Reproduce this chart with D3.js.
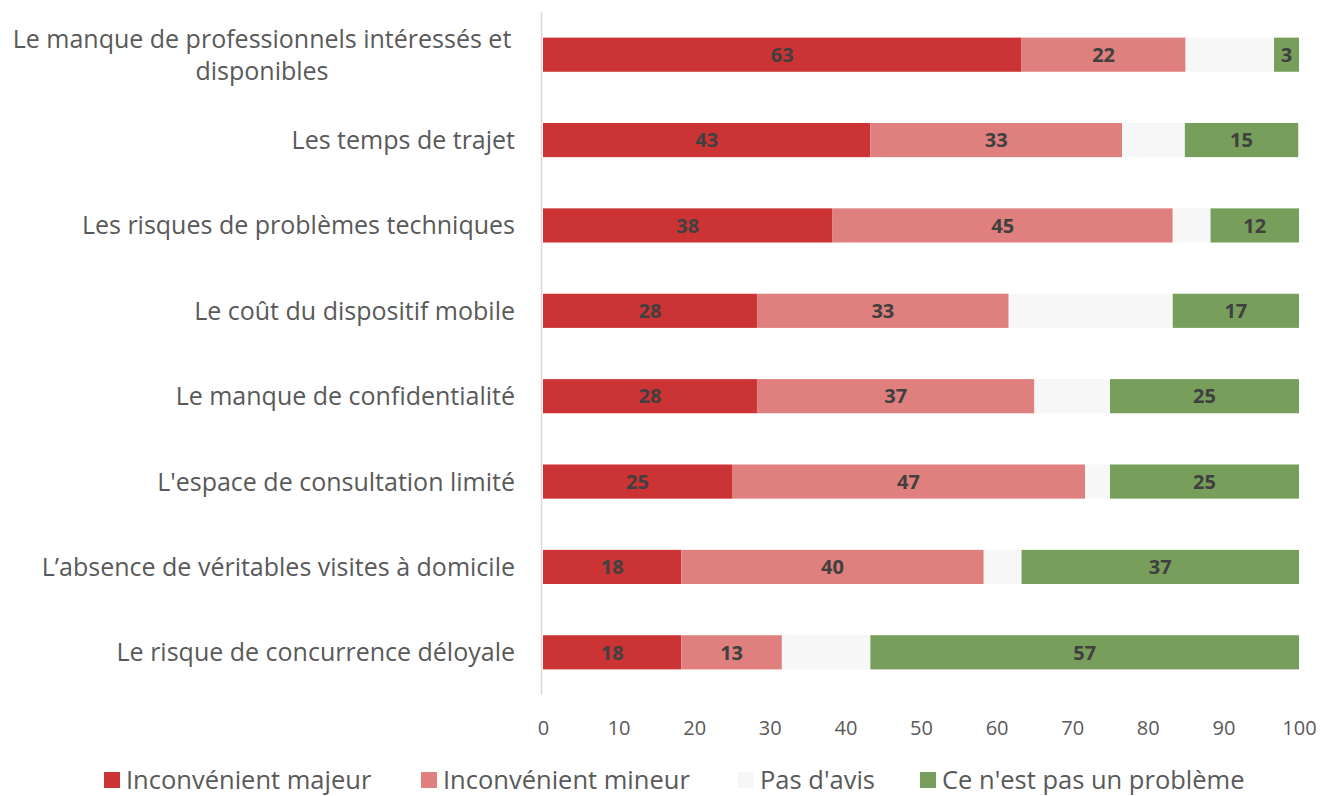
<!DOCTYPE html>
<html>
<head>
<meta charset="utf-8">
<script src="https://cdn.jsdelivr.net/npm/d3@7"></script>
<style>
body { margin: 0; background: #fff; }
svg { font-family: "Open Sans", "Noto Sans", sans-serif; }
</style>
</head>
<body>
<svg width="1336" height="796"></svg>
<script>
var categories = [
  "Le manque de professionnels intéressés et|disponibles",
  "Les temps de trajet",
  "Les risques de problèmes techniques",
  "Le coût du dispositif mobile",
  "Le manque de confidentialité",
  "L'espace de consultation limité",
  "L’absence de véritables visites à domicile",
  "Le risque de concurrence déloyale"
];
var majeur  = [63.3, 43.3, 38.3, 28.3, 28.3, 25.0, 18.3, 18.3];
var mineur  = [21.7, 33.3, 45.0, 33.3, 36.7, 46.7, 40.0, 13.3];
var sansAvis = [11.7, 8.3, 5.0, 21.7, 10.0, 3.3, 5.0, 11.7];
var pasProbleme = [3.3, 15.0, 11.7, 16.7, 25.0, 25.0, 36.7, 56.7];
var seriesNames = ["Inconvénient majeur", "Inconvénient mineur", "Pas d'avis", "Ce n'est pas un problème"];
var colors = ["#cb3334", "#df7f7e", "#f7f7f7", "#789e5b"];
var showLabel = [true, true, false, true];
var xTicks = [0, 10, 20, 30, 40, 50, 60, 70, 80, 90, 100];

var svg = d3.select("svg");

var table = categories.map(function(c, i) {
  return {cat: c, s0: majeur[i], s1: mineur[i], s2: sansAvis[i], s3: pasProbleme[i]};
});
var keys = ["s0", "s1", "s2", "s3"];
var stacked = d3.stack().keys(keys)(table);

var xScale = d3.scaleLinear().domain([0, 100]).range([543, 1299]);
var yScale = d3.scaleBand().domain(categories).range([12, 695]).paddingInner(0.6).paddingOuter(0.3);

// bars
var layers = svg.selectAll(".layer")
  .data(stacked)
  .enter()
  .append("g")
  .attr("class", "layer")
  .attr("fill", function(d, i) { return colors[i]; });

layers.selectAll("rect")
  .data(function(d) { return d; })
  .enter()
  .append("rect")
  .attr("x", function(d) { return xScale(d[0]); })
  .attr("y", function(d) { return yScale(d.data.cat); })
  .attr("width", function(d) { return xScale(d[1]) - xScale(d[0]); })
  .attr("height", yScale.bandwidth());

// value labels
layers.each(function(layer, i) {
  if (!showLabel[i]) return;
  d3.select(this).selectAll("text")
    .data(layer)
    .enter()
    .append("text")
    .attr("x", function(d) { return (xScale(d[0]) + xScale(d[1])) / 2; })
    .attr("y", function(d) { return yScale(d.data.cat) + yScale.bandwidth() / 2; })
    .attr("dy", "0.36em")
    .attr("text-anchor", "middle")
    .attr("fill", "#404040")
    .style("font-size", "20px")
    .style("font-weight", "bold")
    .text(function(d) { return Math.round(d[1] - d[0]); });
});

// vertical axis line
svg.append("line")
  .attr("x1", 541.5).attr("x2", 541.5)
  .attr("y1", 12).attr("y2", 695)
  .attr("stroke", "#d9d9d9")
  .attr("stroke-width", 1.5);

// category labels
categories.forEach(function(c) {
  var lines = c.split("|");
  var cy = yScale(c) + yScale.bandwidth() / 2;
  var t = svg.append("text")
    .attr("fill", "#595959")
    .style("font-size", "25px");
  if (lines.length == 1) {
    t.attr("x", 515).attr("y", cy).attr("dy", "0.36em")
      .attr("text-anchor", "end").text(lines[0]);
  } else {
    t.attr("text-anchor", "middle");
    lines.forEach(function(l, j) {
      t.append("tspan")
        .attr("x", 262)
        .attr("y", cy - 16 + j * 32)
        .attr("dy", "0.36em")
        .text(l);
    });
  }
});

// x axis tick labels
var xAxis = svg.append("g")
  .call(d3.axisBottom(xScale).tickValues(xTicks).tickSize(0).tickPadding(0));
xAxis.select(".domain").remove();
xAxis.selectAll("text")
  .attr("y", 728)
  .attr("dy", "0.36em")
  .attr("fill", "#595959")
  .style("font-size", "20px")
  .style("font-family", "\"Open Sans\", \"Noto Sans\", sans-serif");

// legend
var legendX = [104, 421, 738, 920];
var legend = svg.selectAll(".legend")
  .data(seriesNames)
  .enter()
  .append("g")
  .attr("class", "legend")
  .attr("transform", function(d, i) { return "translate(" + legendX[i] + ",780)"; });
legend.append("rect")
  .attr("x", 0).attr("y", -8)
  .attr("width", 16).attr("height", 16)
  .attr("fill", function(d, i) { return colors[i]; });
legend.append("text")
  .attr("x", 22).attr("y", 0).attr("dy", "0.36em")
  .attr("fill", "#595959")
  .style("font-size", "25.5px")
  .text(function(d) { return d; });
</script>
</body>
</html>
